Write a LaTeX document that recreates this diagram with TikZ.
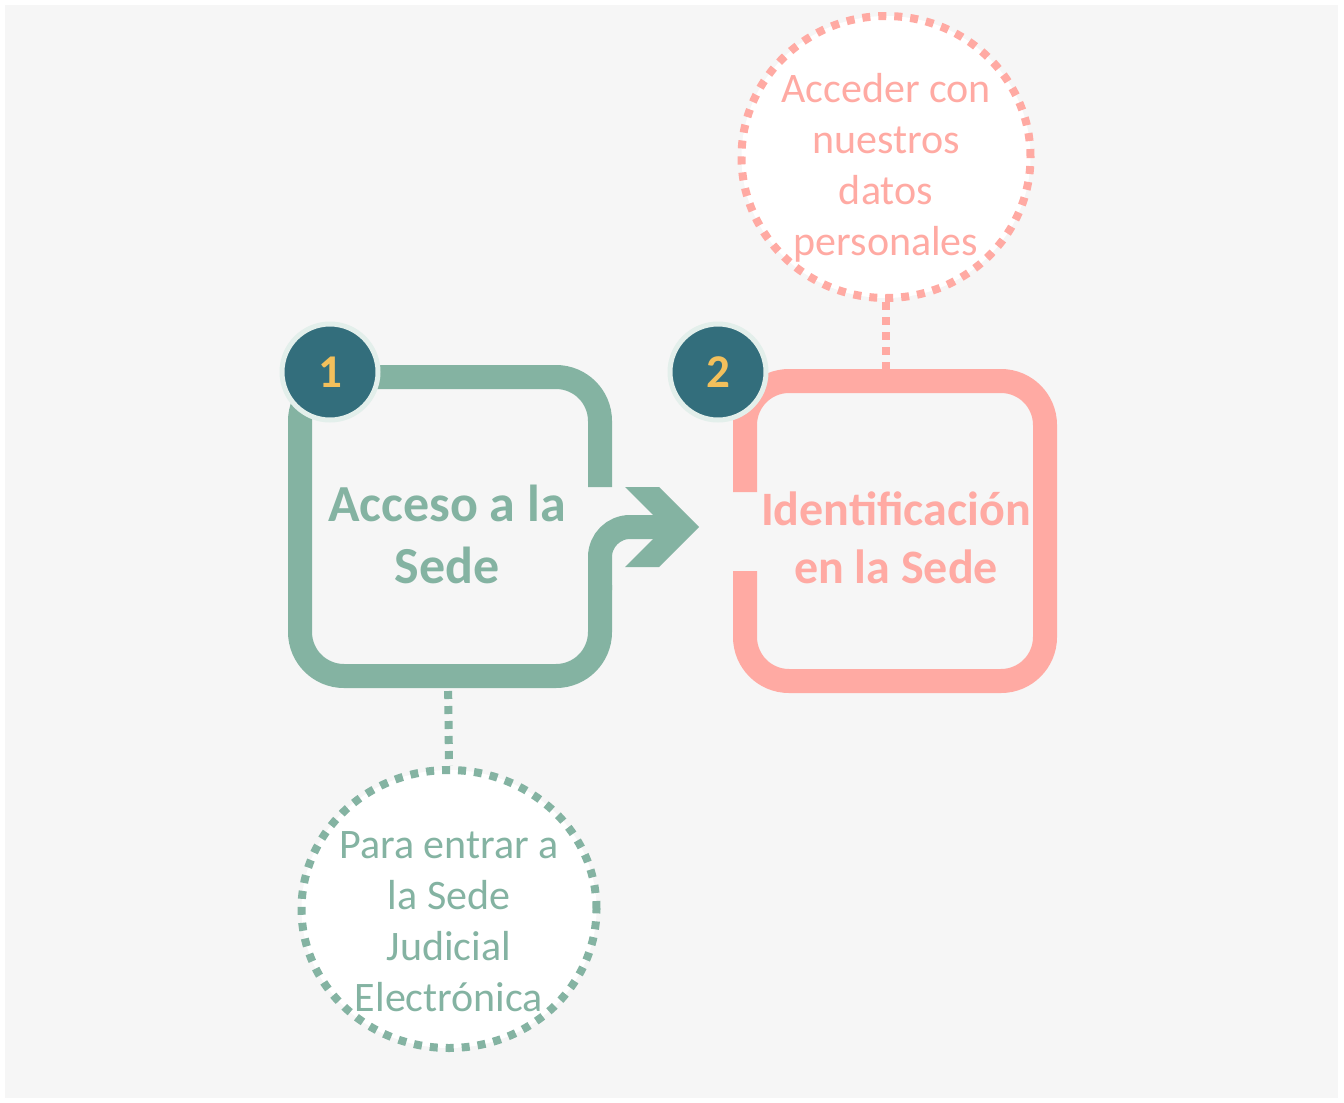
\documentclass[tikz,border=0pt]{standalone}
\usepackage{fontspec}
\setmainfont{Carlito}
\usetikzlibrary{shapes.geometric}

\definecolor{verde}{HTML}{84B3A2}
\definecolor{rosa}{HTML}{FFAAA3}
\definecolor{azul}{HTML}{336E7C}
\definecolor{oro}{HTML}{F3C05C}
\definecolor{aro}{HTML}{E3EFEB}
\definecolor{fondo}{HTML}{F6F6F6}

\tikzset{
  marco/.style={line width=24pt, rounded corners=44pt},
  numero/.style={circle, fill=azul, draw=aro, line width=5pt, minimum size=96pt,
    inner sep=0pt, text=oro, font=\bfseries\fontsize{47}{50}\selectfont},
  nota/.style={ellipse, fill=white, line width=8pt, dash pattern=on 8pt off 8pt, inner sep=0pt},
  enlace/.style={line width=8pt, dash pattern=on 8pt off 7pt},
  titulo/.style={align=center, font=\bfseries\fontsize{52}{62}\selectfont},
  texto/.style={align=center, font=\fontsize{42}{51}\selectfont},
}

\begin{document}
\begin{tikzpicture}[x=1pt, y=-1pt]
  % Fondo
  \useasboundingbox (0,0) rectangle (1344,1103);
  \fill[fondo] (5,5) rectangle (1338,1098);

  % Notas
  \node[nota, draw=verde, minimum width=295pt, minimum height=278pt] (nota1) at (449,909) {};
  \node[nota, draw=rosa, minimum width=289pt, minimum height=282pt] (nota2) at (886,157) {};
  \node[texto, text=verde] (txt1) at (449,922) {Para entrar a\\la Sede\\Judicial\\Electrónica};
  \node[texto, text=rosa] (txt2) at (886,168) {Acceder con\\nuestros\\datos\\personales};

  % Enlaces
  \coordinate (b1) at (448,676);
  \coordinate (b2) at (886,381);
  \draw[enlace, verde] (b1) -- (nota1.north);
  \draw[enlace, rosa] (nota2.south) -- (b2);

  % Cajas
  \draw[marco, verde] (600,487) -- (600,377) -- (300,377) -- (300,676) -- (600,676) -- (600,585);
  \draw[verde, line width=24pt, rounded corners=30pt] (600,590) -- (600,527) -- (668,527);
  \fill[verde] (625,487) -- (659,487) -- (699,527) -- (659,567) -- (625,567) -- (665,527) -- cycle;
  \draw[marco, rosa] (745,492) -- (745,381) -- (1045,381) -- (1045,681) -- (745,681) -- (745,571);

  % Numeros
  \node[numero] (n1) at (330,372) {1};
  \node[numero] (n2) at (718,372) {2};

  % Titulos
  \node[titulo, text=verde] (acceso) at (447,534) {Acceso a la\\Sede};
  \node[titulo, text=rosa, font=\bfseries\fontsize{48}{58}\selectfont] (ident) at (896,538) {Identificación\\en la Sede};
\end{tikzpicture}
\end{document}
